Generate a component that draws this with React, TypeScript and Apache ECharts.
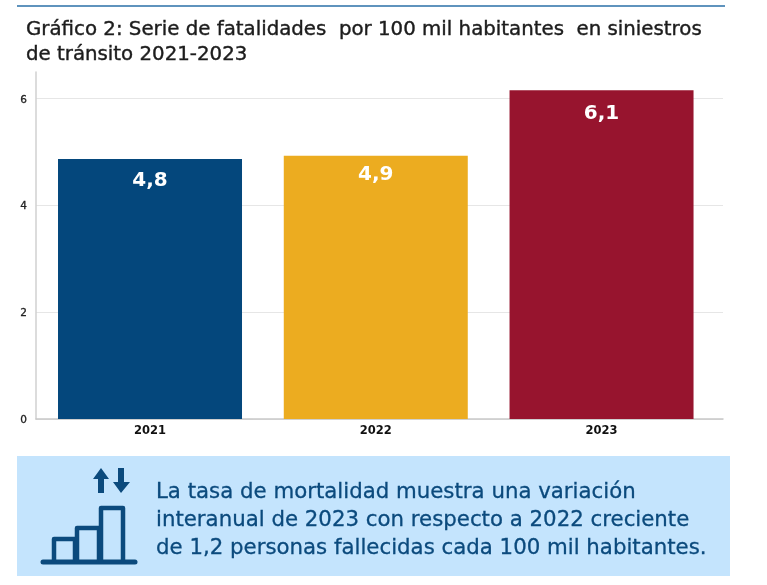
import React, { useEffect, useRef } from "react";
import * as echarts from "echarts";

const years = [2021, 2022, 2023];
const barValues = [4.87, 4.93, 6.16];
const barLabels = ["4,8", "4,9", "6,1"];
const labelOffsets = [10, 7, 12];
const barColors = ["#04477c", "#ecac20", "#97142e"];
const yTicks = [0, 2, 4, 6];
const titleLines = "Gráfico 2: Serie de fatalidades  por 100 mil habitantes  en siniestros\nde tránsito 2021-2023";
const noteLines = "La tasa de mortalidad muestra una variación\ninteranual de 2023 con respecto a 2022 creciente\nde 1,2 personas fallecidas cada 100 mil habitantes.";
const FONT = "DejaVu Sans";
const NAVY = "#0b4a7d";

export default function App() {
  const ref = useRef<HTMLDivElement>(null);
  useEffect(() => {
    const chart = echarts.init(ref.current!, undefined, { renderer: "svg" });
    const icon = (s: any) => ({ silent: true, ...s });
    const stroke = { stroke: NAVY, lineWidth: 4.5, fill: "none", lineJoin: "round" };
    chart.setOption({
      animation: false,
      backgroundColor: "#ffffff",
      textStyle: { fontFamily: FONT },
      title: {
        text: titleLines,
        left: 21,
        top: 11,
        textStyle: { fontFamily: FONT, fontSize: 19.8, fontWeight: 400, color: "#1c1c1c", lineHeight: 25, textBorderColor: "#1c1c1c", textBorderWidth: 0.4 },
      },
      grid: { left: 36, right: 44, top: 72, bottom: 166 },
      xAxis: {
        type: "value",
        min: 2020.495,
        max: 2023.538,
        splitLine: { show: false },
        axisLine: { show: true, lineStyle: { color: "#c8c8c8", width: 1.5 } },
        axisTick: { show: false, customValues: years },
        axisLabel: {
          customValues: years,
          formatter: (v: number) => String(v),
          color: "#111111",
          fontFamily: FONT,
          fontSize: 11.5,
          fontWeight: 700,
          margin: 5,
        },
      },
      yAxis: {
        type: "value",
        min: 0,
        max: 6.5,
        interval: 2,
        axisLine: { show: true, lineStyle: { color: "#d0d0d0", width: 1.5 } },
        axisTick: { show: false, customValues: yTicks },
        splitLine: { lineStyle: { color: "#e6e6e6", width: 1 } },
        axisLabel: {
          customValues: yTicks,
          color: "#222222",
          fontFamily: FONT,
          fontSize: 10.5,
          margin: 9,
          textBorderColor: "#222222",
          textBorderWidth: 0.3,
        },
      },
      series: [
        {
          type: "bar",
          barWidth: 184,
          data: years.map((y, i) => ({
            value: [y, barValues[i]],
            itemStyle: { color: barColors[i] },
            label: {
              show: true,
              position: "insideTop",
              distance: labelOffsets[i],
              formatter: barLabels[i],
              color: "#ffffff",
              fontFamily: FONT,
              fontSize: 20,
              fontWeight: 700,
            },
          })),
        },
      ],
      graphic: [
        icon({ type: "line", shape: { x1: 17, y1: 6, x2: 725, y2: 6 }, style: { stroke: "#5f93bd", lineWidth: 2 } }),
        icon({ type: "rect", shape: { x: 17, y: 456, width: 713, height: 120 }, style: { fill: "#c4e4fd" } }),
        icon({
          type: "text",
          x: 156,
          y: 476,
          style: { text: noteLines, fill: NAVY, fontFamily: FONT, fontSize: 21.3, fontWeight: 400, lineHeight: 28, stroke: NAVY, lineWidth: 0.3 },
        }),
        icon({ type: "line", shape: { x1: 43, y1: 562, x2: 135, y2: 562 }, style: { stroke: NAVY, lineWidth: 5, lineCap: "round" } }),
        icon({ type: "polyline", shape: { points: [[54, 562], [54, 539], [75, 539], [75, 562]] }, style: stroke }),
        icon({ type: "polyline", shape: { points: [[77, 562], [77, 528], [99, 528], [99, 562]] }, style: stroke }),
        icon({ type: "polyline", shape: { points: [[101, 562], [101, 508], [123, 508], [123, 562]] }, style: stroke }),
        icon({ type: "polygon", shape: { points: [[101, 468], [109, 479], [104, 479], [104, 493], [98, 493], [98, 479], [93, 479]] }, style: { fill: NAVY } }),
        icon({ type: "polygon", shape: { points: [[121, 493], [130, 482], [124, 482], [124, 468], [118, 468], [118, 482], [113, 482]] }, style: { fill: NAVY } }),
      ],
    });
    return () => chart.dispose();
  }, []);
  return (
    <div
      ref={ref}
      style={{ position: "fixed", left: 0, top: 0, width: 767, height: 585, filter: "blur(0.5px)" }}
    />
  );
}
